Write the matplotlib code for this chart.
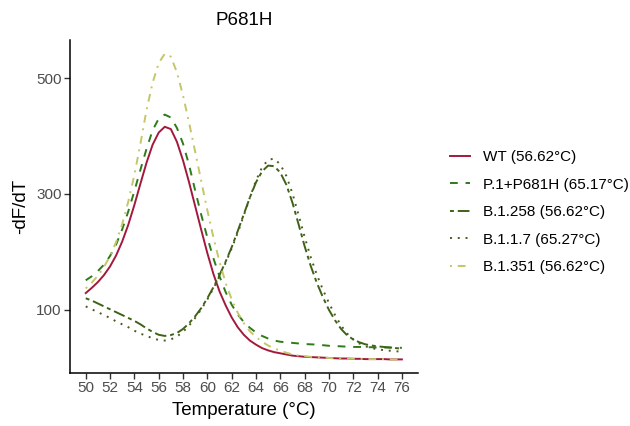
import matplotlib
matplotlib.use("Agg")
import matplotlib.pyplot as plt

# temperature grid (°C) and -dF/dT values
temp = [50, 50.5, 51, 51.5, 52, 52.5, 53, 53.5, 54, 54.5, 55, 55.5, 56, 56.5, 57, 57.5,
        58, 58.5, 59, 59.5, 60, 60.5, 61, 61.5, 62, 62.5, 63, 63.5, 64, 64.5, 65, 65.5,
        66, 66.5, 67, 67.5, 68, 68.5, 69, 69.5, 70, 70.5, 71, 71.5, 72, 72.5, 73, 73.5,
        74, 74.5, 75, 75.5, 76]

wt = [129, 138, 148, 160, 175, 194, 218, 247, 281, 318, 354, 385, 406, 416, 412, 390,
      358, 320, 279, 238, 198, 162, 132, 108, 87, 70, 57, 47, 40, 34, 30, 27,
      25, 23, 21, 20, 19, 18.5, 18, 17.5, 17, 16.5, 16, 16, 15.5, 15.5, 15, 15,
      15, 15, 14.5, 14.5, 14.5]

p1_p681h = [151, 158, 167, 178, 193, 213, 239, 270, 305, 342, 378, 410, 430, 437, 432, 414,
            387, 350, 306, 264, 225, 189, 158, 131, 109, 92, 79, 69, 61, 55, 50.5, 47,
            45, 44, 43, 42, 41, 40.5, 40, 39, 38, 37.5, 37, 36.5, 36, 36, 35.5, 35.5,
            35, 35, 35, 34.5, 34.5]

b1258 = [120, 116, 111, 106, 101, 96, 91, 86, 81, 75, 68, 62, 57, 55, 56.5, 60,
         67, 77, 89, 103, 120, 139, 160, 183, 208, 236, 265, 294, 320, 339, 349, 348,
         337, 316, 285, 248, 210, 176, 147, 122, 100, 82, 67, 56, 49, 44, 40.5, 38.5,
         37, 36, 35, 34, 33]

b117 = [106, 101, 96, 91, 86, 80, 75, 70, 64, 59, 55, 51, 48, 47, 49, 54,
        62, 73, 86, 101, 118, 137, 158, 181, 206, 233, 263, 294, 323, 346, 359, 361,
        351, 331, 301, 264, 226, 191, 161, 135, 112, 91, 73, 59, 49, 42, 37, 34,
        32, 30.5, 29.5, 28.5, 28]

b1351 = [137, 147, 159, 174, 193, 217, 248, 287, 333, 387, 445, 492, 526, 542, 537, 510,
         470, 423, 373, 322, 272, 225, 183, 147, 118, 95, 77, 63, 53, 45, 38.5, 33.5,
         29.5, 26, 23, 21, 20, 19, 18, 17.5, 17, 16.5, 16, 16, 15.5, 15.5, 15, 15,
         15, 15, 14.5, 14.5, 14.5]

labels = ["WT (56.62°C)", "P.1+P681H (65.17°C)", "B.1.258 (56.62°C)",
          "B.1.1.7 (65.27°C)", "B.1.351 (56.62°C)"]
colors = ["#A3193D", "#2F7A1A", "#3E6216", "#4A5A1F", "#C4C667"]
dashes = [None, (4, 4), (2, 2, 6, 2), (1, 3), (1, 3, 4, 3)]
series = [wt, p1_p681h, b1258, b117, b1351]

plt.rcParams["font.family"] = ["Liberation Sans", "DejaVu Sans"]

fig = plt.figure(figsize=(6.3, 4.26), dpi=100)
ax = fig.add_axes([0.111, 0.1244, 0.552, 0.782])

for y, lab, col, d in zip(series, labels, colors, dashes):
    if d is None:
        ax.plot(temp, y, color=col, lw=1.4, label=lab)
    else:
        ax.plot(temp, y, color=col, lw=1.4, dashes=d, label=lab)

ax.set_xlim(48.7, 77.3)
ax.set_ylim(-9, 566)
ax.set_xticks(range(50, 77, 2))
ax.set_yticks([100, 300, 500])

for s in ["top", "right"]:
    ax.spines[s].set_visible(False)
for s in ["left", "bottom"]:
    ax.spines[s].set_linewidth(1.1)
    ax.spines[s].set_color("black")
ax.tick_params(axis="both", length=4, width=1, color="#333333",
               labelsize=11, labelcolor="#4D4D4D", pad=2)

ax.set_xlabel("Temperature (°C)", fontsize=13.5, labelpad=5)
ax.set_ylabel("-dF/dT", fontsize=13.5, labelpad=5)
ax.set_title("P681H", fontsize=13.5, pad=11)

fig.legend(loc="center left", bbox_to_anchor=(0.714, 0.502), frameon=False,
           fontsize=11, handlelength=1.3, handletextpad=0.9, labelspacing=0.88,
           borderpad=0, borderaxespad=0)

fig.savefig("out.png", dpi=100)
